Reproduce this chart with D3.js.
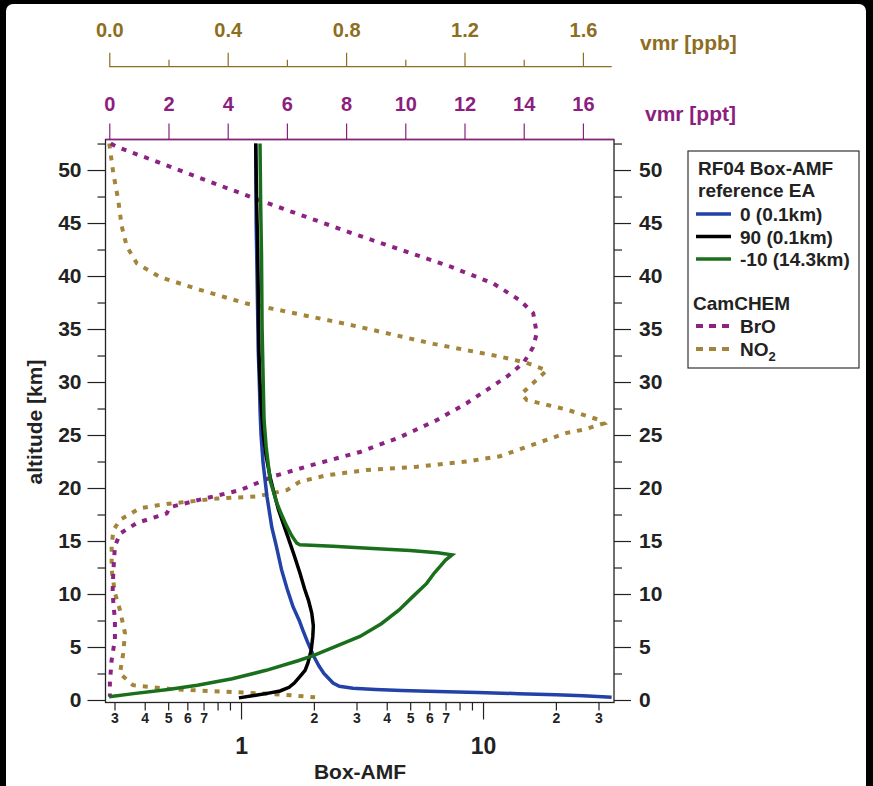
<!DOCTYPE html>
<html><head><meta charset="utf-8">
<script src="https://cdn.jsdelivr.net/npm/d3@7"></script>
<style>
html,body{margin:0;padding:0;background:#000;}
svg{display:block;}
text{font-family:"Liberation Sans",Arial,sans-serif;font-weight:bold;}
</style></head><body>
<svg id="c" width="873" height="786"></svg>
<script>
// ---------- data (altitude km, value) ----------
const amfEA0 = [[0.25,34.0],[0.4,26],[0.5,20],[0.6,14],[0.7,9.5],[0.8,6.5],[0.9,4.6],[1.0,3.6],[1.1,2.9],[1.3,2.55],[1.6,2.4],[2.5,2.2],[3.2,2.1],[4.1,2.0],[5.5,1.88],[6.6,1.8],[7.5,1.74],[8.8,1.64],[10.5,1.55],[12.3,1.47],[14.5,1.40],[16.3,1.34],[19.2,1.28],[22.4,1.233],[25,1.21],[27,1.2],[30,1.19],[33,1.178],[40,1.165],[45,1.155],[52.5,1.15]];
const amfEA90 = [[0.2,0.98],[0.45,1.15],[0.65,1.3],[0.85,1.45],[1.2,1.58],[1.6,1.66],[2.2,1.75],[2.8,1.84],[3.5,1.89],[4.7,1.95],[6,1.98],[7,1.99],[8.2,1.96],[9.4,1.9],[10.5,1.83],[12,1.75],[13.8,1.65],[15.7,1.545],[17.9,1.43],[19.5,1.37],[21,1.32],[23,1.27],[24.8,1.24],[27,1.218],[30,1.198],[32.5,1.187],[37,1.18],[42.5,1.172],[47,1.16],[52.5,1.15]];
const amfEAm10 = [[0.3,0.285],[0.6,0.36],[1.0,0.5],[1.4,0.66],[2.0,0.92],[2.8,1.27],[3.7,1.72],[4.2,2.0],[5.2,2.55],[6.0,3.1],[7.2,3.8],[8.5,4.5],[9.8,5.15],[11.0,5.85],[12.0,6.3],[12.6,6.65],[13.2,7.0],[13.7,7.45],[13.9,6.5],[14.1,5.0],[14.3,3.5],[14.5,2.4],[14.65,1.75],[14.8,1.70],[15.5,1.62],[16.4,1.545],[17.5,1.47],[18.6,1.405],[20.7,1.32],[23.9,1.27],[26.4,1.245],[30,1.235],[35,1.222],[42,1.215],[47,1.205],[52.5,1.198]];
const brO = [[52.5,0.05],[52.2,0.25],[47.6,4.64],[46.9,5.32],[44.0,8.24],[40.9,11.51],[39.3,12.97],[37.7,13.88],[36.5,14.32],[34.6,14.44],[33.3,14.32],[31.8,13.99],[30.5,13.43],[28.0,12.07],[26.4,11.06],[24.8,9.82],[23.4,8.47],[22.2,6.89],[21.1,5.54],[19.8,4.42],[18.9,3.06],[18.2,2.05],[17.6,1.94],[16.7,0.93],[15.7,0.36],[14.5,0.19],[12.3,0.14],[10.1,0.11],[7.5,0.19],[5.7,0.19],[3.8,0.08],[1.6,0.02],[0.3,0.02]];
const nO2 = [[52.5,0.0],[49.7,0.0135],[47.2,0.030],[44.7,0.042],[42.8,0.059],[41.2,0.093],[39.9,0.171],[38.7,0.306],[37.4,0.464],[36.9,0.554],[35.4,0.813],[33.6,1.095],[32.4,1.32],[31.8,1.41],[31.1,1.478],[29.9,1.432],[28.9,1.393],[28.3,1.41],[27.4,1.545],[26.4,1.658],[26.1,1.671],[25.5,1.601],[25.2,1.545],[24.1,1.432],[23.0,1.32],[22.5,1.207],[22.0,1.039],[21.7,0.87],[21.2,0.734],[20.6,0.644],[19.8,0.6],[19.2,0.498],[19.0,0.363],[18.5,0.194],[18.1,0.104],[17.0,0.036],[16.0,0.0135],[14.5,0.008],[12.3,0.008],[10.1,0.019],[8.5,0.036],[6.3,0.053],[4.4,0.047],[2.5,0.036],[1.4,0.08],[1.0,0.22],[0.75,0.42],[0.5,0.59],[0.25,0.695]];

// ---------- tick labels ----------
const altMajor = [0,5,10,15,20,25,30,35,40,45,50];
const altMinor = [2.5,7.5,12.5,17.5,22.5,27.5,32.5,37.5,42.5,47.5,52.5];
const amfMinorLabeled = [0.3,0.4,0.5,0.6,0.7,2,3,4,5,6,7,20,30];
const amfMinorPlain = [0.8,0.9,8,9];
const amfMajor = [1,10];
const ppbMajor = [0.0,0.4,0.8,1.2,1.6];
const ppbMinor = [0.2,0.6,1.0,1.4];
const pptMajor = [0,2,4,6,8,10,12,14,16];

const legendAMF = ["0 (0.1km)","90 (0.1km)","-10 (14.3km)"];
const colBlue="#2342a8", colBlack="#000000", colGreen="#1a6f1c", colPurple="#8c2282", colOlive="#a3853a";
const colPpbText="#8d6d1f", colPptText="#8b1e7f";

// ---------- layout ----------
const L=105.5, R=614, T=139.5, B=702.5;
const svg=d3.select("#c");
svg.append("rect").attr("x",6).attr("y",4).attr("width",860).attr("height",790).attr("rx",7).attr("fill","#fff");

const y=d3.scaleLinear().domain([-0.236,52.88]).range([B,T]);
const x=d3.scaleLog().domain([0.2754,34.77]).range([L,R]);
const xppt=d3.scaleLinear().domain([-0.128,17.05]).range([L,R]);
const xppb=d3.scaleLinear().domain([-0.0128,1.705]).range([L,R]);

svg.append("defs").append("clipPath").attr("id","clip").append("rect").attr("x",L).attr("y",T).attr("width",R-L).attr("height",B-T);

function fix(g,size,color){
  g.select(".domain").remove();
  g.selectAll(".tick line").attr("stroke",color||"#222").attr("stroke-width",1.2);
  g.selectAll(".tick text").attr("font-size",size).attr("fill",color||"#222").attr("font-family","Liberation Sans, Arial, sans-serif").attr("font-weight","bold");
}

// left axis
svg.append("g").attr("transform",`translate(${L},0)`).call(d3.axisLeft(y).tickValues(altMajor).tickSize(18).tickPadding(6)).call(g=>fix(g,21));
svg.append("g").attr("transform",`translate(${L},0)`).call(d3.axisLeft(y).tickValues(altMinor).tickSize(8).tickFormat("")).call(g=>fix(g,21));
// right axis
svg.append("g").attr("transform",`translate(${R},0)`).call(d3.axisRight(y).tickValues(altMajor).tickSize(17).tickPadding(8)).call(g=>fix(g,21));
svg.append("g").attr("transform",`translate(${R},0)`).call(d3.axisRight(y).tickValues(altMinor).tickSize(8).tickFormat("")).call(g=>fix(g,21));
// bottom axis
svg.append("g").attr("transform",`translate(0,${B})`).call(d3.axisBottom(x).tickValues(amfMinorLabeled).tickSize(8).tickPadding(3).tickFormat(d=>d<1?Math.round(d*10):d<10?d:Math.round(d/10))).call(g=>fix(g,14));
svg.append("g").attr("transform",`translate(0,${B})`).call(d3.axisBottom(x).tickValues(amfMinorPlain).tickSize(8).tickFormat("")).call(g=>fix(g,14));
svg.append("g").attr("transform",`translate(0,${B})`).call(d3.axisBottom(x).tickValues(amfMajor).tickSize(17).tickPadding(18).tickFormat(d3.format("d"))).call(g=>fix(g,23));
// top ppb axis
const yPpb=66.7;
svg.append("g").attr("transform",`translate(0,${yPpb})`).call(d3.axisTop(xppb).tickValues(ppbMajor).tickSize(14).tickPadding(16).tickFormat(d3.format(".1f"))).call(g=>fix(g,20,colPpbText));
svg.append("g").attr("transform",`translate(0,${yPpb})`).call(d3.axisTop(xppb).tickValues(ppbMinor).tickSize(7).tickFormat("")).call(g=>fix(g,20,colPpbText));
svg.append("line").attr("x1",xppb(0)).attr("x2",611.7).attr("y1",yPpb).attr("y2",yPpb).attr("stroke",colPpbText).attr("stroke-width",1.3);
// top ppt axis
svg.append("g").attr("transform",`translate(0,${T})`).call(d3.axisTop(xppt).tickValues(pptMajor).tickSize(16).tickPadding(13).tickFormat(d3.format("d"))).call(g=>fix(g,20,colPptText));

// frame
svg.append("rect").attr("x",L).attr("y",T).attr("width",R-L).attr("height",B-T).attr("fill","none").attr("stroke","#222").attr("stroke-width",1.3);
svg.append("line").attr("x1",L).attr("x2",R).attr("y1",T).attr("y2",T).attr("stroke",colPptText).attr("stroke-width",1.3);

// curves
const plot=svg.append("g").attr("clip-path","url(#clip)");
const lineAmf=d3.line().x(d=>x(d[1])).y(d=>y(d[0]));
const linePpt=d3.line().x(d=>xppt(d[1])).y(d=>y(d[0]));
const linePpb=d3.line().x(d=>xppb(d[1])).y(d=>y(d[0]));
plot.append("path").datum(nO2).attr("d",linePpb).attr("fill","none").attr("stroke",colOlive).attr("stroke-width",4).attr("stroke-dasharray","5,7");
plot.append("path").datum(brO).attr("d",linePpt).attr("fill","none").attr("stroke",colPurple).attr("stroke-width",4).attr("stroke-dasharray","5,7");
plot.append("path").datum(amfEA0).attr("d",lineAmf).attr("fill","none").attr("stroke",colBlue).attr("stroke-width",3.5);
plot.append("path").datum(amfEA90).attr("d",lineAmf).attr("fill","none").attr("stroke",colBlack).attr("stroke-width",3.5);
plot.append("path").datum(amfEAm10).attr("d",lineAmf).attr("fill","none").attr("stroke",colGreen).attr("stroke-width",3.5);

// titles
svg.append("text").attr("transform","translate(42,422) rotate(-90)").attr("text-anchor","middle").attr("font-size",21).attr("fill","#222").text("altitude [km]");
svg.append("text").attr("x",360).attr("y",779).attr("text-anchor","middle").attr("font-size",21).attr("fill","#222").text("Box-AMF");
svg.append("text").attr("x",640).attr("y",50).attr("font-size",21).attr("fill",colPpbText).text("vmr [ppb]");
svg.append("text").attr("x",645).attr("y",121).attr("font-size",21).attr("fill",colPptText).text("vmr [ppt]");

// legend
const lg=svg.append("g");
lg.append("rect").attr("x",688).attr("y",151).attr("width",171).attr("height",217).attr("fill","#fff").attr("stroke","#333").attr("stroke-width",1.2);
lg.append("text").attr("x",698).attr("y",175).attr("font-size",19).attr("fill","#222").text("RF04 Box-AMF");
lg.append("text").attr("x",698).attr("y",197).attr("font-size",19).attr("fill","#222").text("reference EA");
const amfCols=[colBlue,colBlack,colGreen];
legendAMF.forEach((t,i)=>{
  const cy=214+i*22.5;
  lg.append("line").attr("x1",696).attr("x2",731).attr("y1",cy).attr("y2",cy).attr("stroke",amfCols[i]).attr("stroke-width",3.5);
  lg.append("text").attr("x",740).attr("y",cy+7).attr("font-size",19).attr("fill","#222").text(t);
});
lg.append("text").attr("x",693).attr("y",310).attr("font-size",19).attr("fill","#222").text("CamCHEM");
[[326,colPurple,"BrO"],[349,colOlive,"NO"]].forEach(([cy,c,t],i)=>{
  lg.append("line").attr("x1",696).attr("x2",731).attr("y1",cy).attr("y2",cy).attr("stroke",c).attr("stroke-width",4).attr("stroke-dasharray","7,6");
  const tx=lg.append("text").attr("x",740).attr("y",cy+7).attr("font-size",19).attr("fill","#222").text(t);
  if(i===1) tx.append("tspan").attr("font-size",13).attr("dy",5).text("2");
});
</script>
</body></html>
